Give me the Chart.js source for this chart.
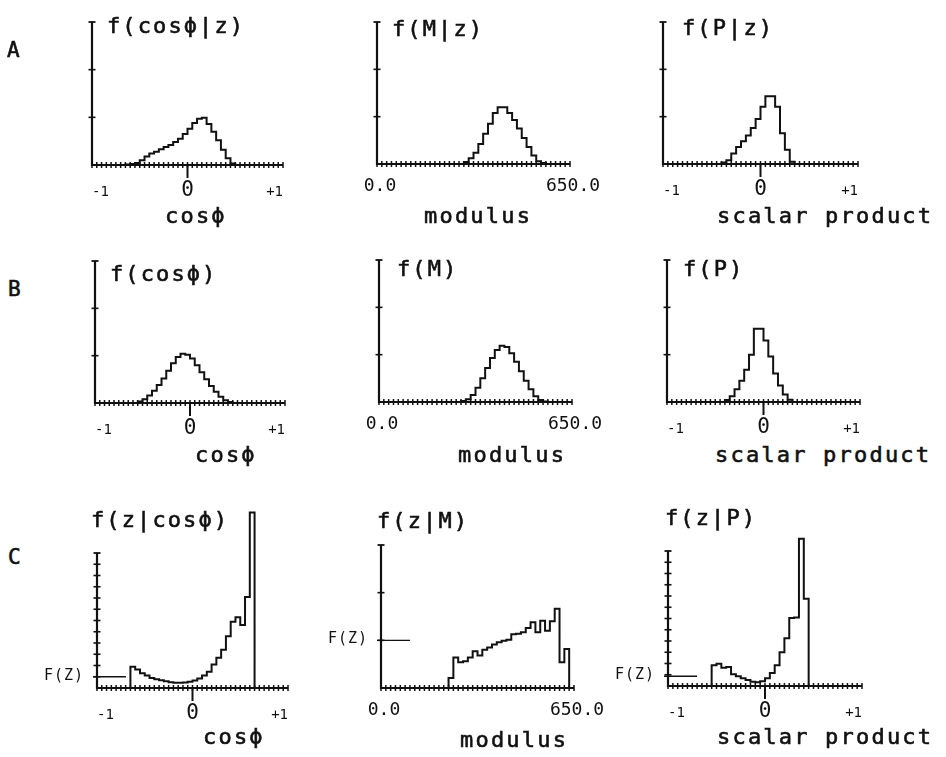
<!DOCTYPE html>
<html>
<head>
<meta charset="utf-8">
<script src="https://cdn.jsdelivr.net/npm/chart.js@4.4.1/dist/chart.umd.min.js"></script>
<style>
  body { margin: 0; background: #fff; }
  #fig { position: relative; width: 946px; height: 757px; overflow: hidden; background: #fff; }
  #fig canvas { position: absolute; }
  .txt { position: absolute; font-family: "DejaVu Sans Mono", monospace; color: #111; -webkit-text-stroke: 0.6px #111; white-space: pre; line-height: 1; }
</style>
</head>
<body>
<div id="fig"></div>
<script>
const INK = "#111";
const NBINS = 40;

// x ranges and tick labels
const cosRange = [-1, 1];
const modRange = [0, 650];
const cosTicks = [-1, 0, 1];
const cosTickLabels = ["-1", "0", "+1"];
const modTicks = [0, 650];
const modTickLabels = ["0.0", "650.0"];

// row A: conditional on z
const fCosGivenZ = [0,0,0,0,0,0,0,0, 0.01,0.02,0.04,0.10,0.18,0.24,0.28,0.33,0.38,0.42,
  0.48,0.55,0.65,0.76,0.88,0.97,0.99,0.86,0.70,0.52, 0.32,0.14,0.03, 0,0,0,0,0,0,0,0,0];
const fModGivenZ = [0,0,0,0,0,0,0,0,0,0,0,0,0,0,0,0,0,0,0,
  0.04,0.12,0.24,0.42,0.64,0.85,1.08,1.20,1.20,1.08,0.93,0.75,0.55,0.36,0.18,0.06,0.02, 0,0,0,0];
const fProdGivenZ = [0,0,0,0,0,0,0,0,0,0,0,0,0,
  0.03,0.08,0.22,0.36,0.48,0.60,0.76,0.95,1.21,1.43,1.43,1.21,0.65,0.30,0.05, 0,0,0,0,0,0,0,0,0,0,0,0];

// row B: marginals
const fCos = [0,0,0,0,0,0,0,0,0,0,
  0.03,0.08,0.16,0.26,0.38,0.52,0.68,0.84,0.97,1.04,1.02,0.94,0.80,0.65,0.50,0.36,0.24,0.13,0.06,0.02,
  0,0,0,0,0,0,0,0,0,0];
const fMod = [0,0,0,0,0,0,0,0,0,0,0,0,0,0,0,0,0,0,
  0.02,0.06,0.15,0.30,0.50,0.72,0.93,1.10,1.19,1.16,1.03,0.85,0.65,0.45,0.27,0.12,0.04,0.01, 0,0,0,0];
const fProd = [0,0,0,0,0,0,0,0,0,0,0,0,0,
  0.04,0.12,0.27,0.45,0.68,1.00,1.55,1.55,1.30,0.96,0.60,0.35,0.16,0.05, 0,0,0,0,0,0,0,0,0,0,0,0,0];

// row C: z conditional on each variable
const fZGivenCos = [0,0,0,0,0,0,0,0,
  1.90,1.65,1.32,1.12,0.88,0.78,0.70,0.60,0.52,0.47,0.46,0.48,0.55,0.66,0.85,
  1.12,1.45,2.10,2.70,3.40,4.60,5.90,6.30,5.60,8.10,15.6, 0,0,0,0,0,0];
const fZGivenMod = [0,0,0,0,0,0,0,0,0,0,0,0,0,0,0,
  0.21,0.64,0.54,0.56,0.64,0.77,0.68,0.80,0.85,0.91,0.96,0.99,1.01,1.13,1.14,1.17,1.26,1.38,1.17,1.41,1.20,1.40,1.66,0.54,0.82];
const fZGivenProd = [0,0,0,0,0,0,0,0,0,0,
  1.85,1.98,1.63,1.69,1.05,0.86,0.68,0.53,0.38,0.34,0.42,0.68,1.15,1.85,3.00,4.25,6.05,6.10,13.1,7.75,
  0,0,0,0,0,0,0,0,0,0];
const marginalFZ = [1.0, 1.0, 0.87];

const panelTitles = ["f(cos\u03d5|z)", "f(M|z)", "f(P|z)",
                     "f(cos\u03d5)", "f(M)", "f(P)",
                     "f(z|cos\u03d5)", "f(z|M)", "f(z|P)"];
const axisTitles = ["cos\u03d5", "modulus", "scalar product"];
const rowLabels = ["A", "B", "C"];

// layout: axis box [left, top, right, bottom] in page pixels
const panels = [
  { values: fCosGivenZ,  kind: "cos", yTop: 3,  fz: null, box: [92, 22, 283, 165] },
  { values: fModGivenZ,  kind: "mod", yTop: 3,  fz: null, box: [377, 22, 570, 164] },
  { values: fProdGivenZ, kind: "cos", yTop: 3,  fz: null, box: [663, 22, 858, 164] },
  { values: fCos,        kind: "cos", yTop: 3,  fz: null, box: [95, 261, 285, 403] },
  { values: fMod,        kind: "mod", yTop: 3,  fz: null, box: [379, 260, 572, 402] },
  { values: fProd,       kind: "cos", yTop: 3,  fz: null, box: [667, 260, 860, 402] },
  { values: fZGivenCos,  kind: "cos", yTop: 12, fz: marginalFZ[0], box: [97, 553, 288, 688] },
  { values: fZGivenMod,  kind: "mod", yTop: 3,  fz: marginalFZ[1], box: [381, 545, 574, 688] },
  { values: fZGivenProd, kind: "cos", yTop: 12, fz: marginalFZ[2], box: [668, 551, 862, 686] }
];
const titlePos = [[107, 34], [392, 37], [682, 36], [110, 282], [397, 277], [683, 277], [91, 528], [377, 529], [665, 526]];
const axisTitlePos = [[165, 224], [424, 224], [717, 224], [195, 463], [458, 463], [715, 463], [203, 745], [460, 748], [717, 745]];
const rowPos = [[7, 58], [8, 297], [8, 565]];

const PAD_L = 70, PAD_R = 40, PAD_T = 50, X_H = 40;
const FONT = "'DejaVu Sans Mono', monospace";

const fig = document.getElementById("fig");

function addText(str, left, baseline, size, spacing) {
    const el = document.createElement("div");
    el.className = "txt";
    el.textContent = str;
    el.style.fontSize = size + "px";
    el.style.letterSpacing = spacing + "px";
    el.style.left = left + "px";
    el.style.top = (baseline - 0.846 * size) + "px";
    fig.appendChild(el);
}

// plotter style axes: crossed ticks on both axes, capped y axis, F(Z) marker
const plotterAxes = {
    id: "plotterAxes",
    afterDatasetsDraw(chart, args, opts) {
        const ctx = chart.ctx;
        const xs = chart.scales.x, ys = chart.scales.y;
        const y0 = ys.getPixelForValue(0);
        const xa = xs.getPixelForValue(xs.min), xb = xs.getPixelForValue(xs.max);
        const line = (x1, y1, x2, y2, w) => {
            ctx.lineWidth = w;
            ctx.beginPath(); ctx.moveTo(x1, y1); ctx.lineTo(x2, y2); ctx.stroke();
        };
        ctx.save();
        ctx.strokeStyle = INK;
        ctx.lineCap = "butt";

        // x axis and bin ticks
        line(xa - 1, y0, xb, y0, 2);
        for (let i = 0; i <= NBINS; i++) {
            const px = xs.getPixelForValue(xs.min + (xs.max - xs.min) * i / NBINS);
            line(px, y0 - 3, px, y0 + 3, 1.5);
        }
        if (opts.zeroTick) {
            const pz = xs.getPixelForValue(0);
            line(pz, y0, pz, y0 + 13, 2);
        }

        // y axis with division ticks and top cap
        const yt = ys.getPixelForValue(opts.yTop);
        line(xa, y0 + 1, xa, yt, 2.2);
        for (let k = 1; k < opts.yTop; k++) {
            const py = ys.getPixelForValue(k);
            line(xa - 3.5, py, xa + 3.5, py, 1.6);
        }
        line(xa - 3.5, yt, xa + 3.5, yt, 1.8);

        // marginal F(Z) level
        if (opts.fz !== null) {
            const pf = ys.getPixelForValue(opts.fz);
            line(xa - 4, pf, xa + 29, pf, 1.4);
            ctx.fillStyle = INK;
            ctx.font = "15px " + FONT;
            ctx.letterSpacing = "1px";
            ctx.textAlign = "right";
            ctx.textBaseline = "middle";
            ctx.fillText("F(Z)", xa - 13, pf - 1);
        }
        ctx.restore();
    }
};

panels.forEach((p, n) => {
    const [L, T, R, B] = p.box;
    const range = p.kind === "mod" ? modRange : cosRange;
    const tickVals = p.kind === "mod" ? modTicks : cosTicks;
    const tickLabels = p.kind === "mod" ? modTickLabels : cosTickLabels;

    const canvas = document.createElement("canvas");
    const w = (R - L) + PAD_L + PAD_R;
    const h = (B - T) + PAD_T + X_H;
    canvas.width = w; canvas.height = h;
    canvas.style.width = w + "px"; canvas.style.height = h + "px";
    canvas.style.left = (L - PAD_L) + "px";
    canvas.style.top = (T - PAD_T) + "px";
    fig.appendChild(canvas);

    // bin edges -> step points
    const pts = [];
    for (let i = 0; i <= NBINS; i++) {
        const x = range[0] + (range[1] - range[0]) * i / NBINS;
        pts.push({ x: x, y: i < NBINS ? p.values[i] : 0 });
    }

    new Chart(canvas, {
        type: "line",
        data: {
            datasets: [{
                data: pts,
                stepped: "after",
                borderColor: INK,
                borderWidth: 2,
                pointRadius: 0,
                fill: false,
                clip: false
            }]
        },
        options: {
            responsive: false,
            animation: false,
            devicePixelRatio: 1,
            layout: { padding: { left: PAD_L, right: PAD_R, top: PAD_T, bottom: 0 } },
            plugins: {
                legend: { display: false },
                tooltip: { enabled: false },
                plotterAxes: { yTop: p.yTop, fz: p.fz, zeroTick: p.kind === "cos" }
            },
            scales: {
                x: {
                    type: "linear",
                    min: range[0],
                    max: range[1],
                    grid: { display: false, drawTicks: false },
                    border: { display: false },
                    afterBuildTicks: (s) => { s.ticks = tickVals.map(v => ({ value: v })); },
                    afterFit: (s) => { s.height = X_H; },
                    ticks: {
                        autoSkip: false,
                        maxRotation: 0,
                        align: p.kind === "mod" ? "center" : "inner",
                        padding: p.kind === "mod" ? 12 : 13,
                        labelOffset: p.kind === "mod" ? 3 : 0,
                        color: INK,
                        font: (c) => {
                            if (p.kind === "mod") return { family: FONT, size: 18, lineHeight: 1.2 };
                            if (c.tick && c.tick.value === 0) return { family: FONT, size: 21, lineHeight: 1.2 };
                            return { family: FONT, size: 14, lineHeight: 2.0 };
                        },
                        callback: (v, i) => tickLabels[i]
                    }
                },
                y: { display: false, min: 0, max: p.yTop }
            }
        },
        plugins: [plotterAxes]
    });

    addText(panelTitles[n], titlePos[n][0], titlePos[n][1], 22, 2.1);
    addText(axisTitles[n % 3], axisTitlePos[n][0], axisTitlePos[n][1], 22, 2.2);
});

rowLabels.forEach((r, i) => addText(r, rowPos[i][0], rowPos[i][1], 21, 0));
</script>
</body>
</html>
